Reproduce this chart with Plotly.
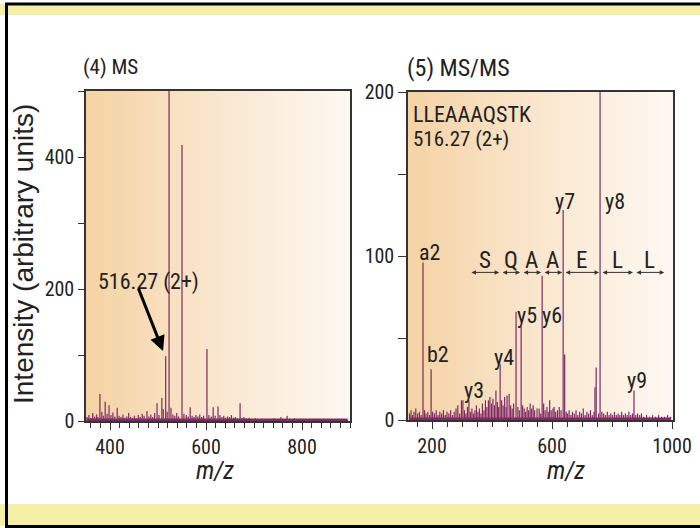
import numpy as np
import plotly.graph_objects as go

FONT_N = "Roboto Condensed, Archivo Narrow, PT Sans Narrow, DejaVu Sans Condensed, sans-serif"

# ---------------- data: (4) MS ----------------
ms_mz = [352, 356, 360, 364, 368, 372, 375, 379, 383, 386, 390, 394, 398, 402, 406, 410, 415, 419,
         423, 427, 431, 435, 439, 443, 447, 451, 455, 459, 463, 467, 471, 477, 481, 485, 489, 493,
         498, 502, 508, 511, 516, 519, 523, 527, 531, 535, 539, 543, 550, 554, 559, 563, 567, 571,
         575, 579, 583, 587, 591, 595, 602, 606, 611, 615, 619, 625, 629, 633, 637, 641, 645, 649,
         653, 657, 661, 665, 671, 675, 679, 684, 690, 696, 703, 710, 718, 726, 734, 742, 750, 756,
         762, 769, 776, 784, 792, 800, 810, 820, 830, 842, 855, 868, 882, 895]
ms_int = [6, 9, 5, 12, 7, 10, 6, 41, 14, 8, 29, 11, 24, 9, 13, 7, 20, 8,
          6, 10, 5, 7, 12, 6, 5, 8, 4, 9, 6, 11, 8, 15, 7, 10, 6, 12,
          27, 9, 35, 18, 98, 14, 520, 20, 10, 8, 12, 7, 418, 11, 9, 7, 21, 8,
          6, 9, 7, 10, 6, 8, 109, 9, 7, 21, 8, 22, 9, 6, 8, 5, 7, 6,
          9, 5, 6, 4, 27, 5, 6, 4, 5, 3, 4, 3, 2, 3, 2, 4, 3, 6,
          3, 8, 3, 4, 2, 3, 2, 3, 2, 3, 2, 3, 2, 2]

# ---------------- data: (5) MS/MS ----------------
msms_mz = [125, 130, 135, 140, 146, 152, 158, 164, 170, 175, 180, 186, 192, 197, 202, 208, 214, 220,
           226, 232, 238, 244, 250, 256, 262, 268, 274, 280, 286, 292, 298, 303, 308, 313, 318, 323,
           328, 333, 338, 343, 348, 353, 358, 363, 368, 373, 378, 383, 388, 393, 398, 403, 408, 413,
           418, 422, 427, 432, 437, 442, 447, 450, 457, 462, 467, 472, 480, 486, 491, 497, 502, 507,
           512, 517, 522, 527, 532, 537, 542, 550, 557, 562, 567, 572, 577, 583, 587, 592, 597, 603,
           607, 612, 618, 624, 630, 637, 642, 647, 652, 657, 663, 668, 674, 680, 686, 692, 698, 704,
           710, 716, 722, 728, 734, 740, 743, 747, 755, 760, 766, 772, 778, 784, 790, 796, 802, 808,
           814, 820, 826, 832, 838, 844, 850, 856, 862, 868, 873, 879, 885, 892, 898, 905, 915, 925,
           935, 945, 955, 965, 975, 985, 995]
msms_int = [4, 6, 3, 5, 7, 4, 5, 3, 96, 6, 4, 5, 3, 31, 5, 4, 6, 3,
            5, 4, 6, 3, 5, 4, 6, 3, 5, 7, 9, 4, 12, 12, 6, 4, 8, 12,
            5, 7, 4, 6, 9, 5, 7, 4, 10, 6, 12, 8, 12, 14, 10, 13, 9, 18,
            11, 8, 34, 12, 9, 14, 8, 15, 16, 9, 7, 10, 66, 8, 6, 57, 9, 7,
            5, 8, 6, 10, 7, 9, 6, 7, 7, 4, 88, 10, 6, 8, 5, 12, 6, 7,
            8, 5, 6, 8, 6, 128, 40, 5, 4, 6, 3, 5, 4, 6, 3, 5, 4, 7,
            3, 5, 4, 6, 3, 5, 20, 32, 4, 230, 5, 4, 3, 5, 3, 4, 3, 5,
            3, 4, 3, 5, 3, 4, 3, 5, 3, 4, 18, 3, 4, 3, 4, 2, 3, 2,
            3, 2, 3, 2, 2, 3, 2]
ion_names = ["a2", "b2", "y3", "y4", "y5", "y6", "y7", "y8", "y9"]
y_ion_mz = [323, 427, 497, 567, 637, 760, 873, 977]
sequence = ["S", "Q", "A", "A", "E", "L", "L"]
peptide = "LLEAAAQSTK"
precursor_text = "516.27 (2+)"

# ---------------- styling ----------------
SPEC = "#7E2A63"
X1 = [350, 900]
Y1 = [0, 500]
X2 = [120, 1003]
Y2 = [0, 200]
W, H = 700, 528
dom_x1 = [86 / W, 350 / W]
dom_x2 = [408 / W, 673 / W]
dom_y1 = [1 - 421 / H, 1 - 91 / H]
dom_y2 = [1 - 420 / H, 1 - 92 / H]

def sticks(mz, it):
    xs, ys = [], []
    for m, v in zip(mz, it):
        xs += [m, m, None]
        ys += [0, v, None]
    return xs, ys

fig = go.Figure()
bg_scale = [[0, "#F5D3A4"], [0.45, "#F9E5CB"], [1, "#FDF8F1"]]
for xr, yr, xa, ya in [(X1, Y1, "x", "y"), (X2, Y2, "x2", "y2")]:
    edges = np.linspace(xr[0], xr[1], 61)
    fig.add_trace(go.Heatmap(x=edges, y=[yr[0], yr[1]], z=[list(np.linspace(0, 1, 60))],
                             colorscale=bg_scale, showscale=False, hoverinfo="skip",
                             xaxis=xa, yaxis=ya))

for mz, it, xa, ya in [(ms_mz, ms_int, "x", "y"), (msms_mz, msms_int, "x2", "y2")]:
    xs, ys = sticks(mz, it)
    fig.add_trace(go.Scatter(x=xs, y=ys, mode="lines", line=dict(color=SPEC, width=1.2),
                             xaxis=xa, yaxis=ya, hoverinfo="skip", showlegend=False))
    fig.add_trace(go.Scatter(x=[min(mz), max(mz)], y=[0, 0], mode="lines",
                             line=dict(color=SPEC, width=5), xaxis=xa, yaxis=ya,
                             hoverinfo="skip", showlegend=False))

axis_common = dict(showgrid=False, zeroline=False, showline=True, linecolor="#333",
                   linewidth=1.5, mirror=True, ticks="outside", tickcolor="#333",
                   tickfont=dict(family=FONT_N, size=20, color="#222"), fixedrange=True)
fig.update_layout(
    width=W, height=H, margin=dict(l=0, r=0, t=0, b=0, autoexpand=False),
    paper_bgcolor="white", plot_bgcolor="white", showlegend=False,
    xaxis=dict(domain=dom_x1, range=X1, anchor="y", tick0=0, dtick=200, ticklen=7,
               minor=dict(dtick=20, ticklen=5, ticks="outside", tickcolor="#333"), **axis_common),
    yaxis=dict(domain=dom_y1, range=Y1, anchor="x", tick0=0, dtick=200, ticklen=6,
               minor=dict(dtick=100, ticklen=6, ticks="outside", tickcolor="#333"), **axis_common),
    xaxis2=dict(domain=dom_x2, range=X2, anchor="y2", tick0=200, dtick=400, ticklen=7,
                minor=dict(dtick=50, ticklen=5, ticks="outside", tickcolor="#333"), **axis_common),
    yaxis2=dict(domain=dom_y2, range=Y2, anchor="x2", tick0=0, dtick=100, ticklen=8,
                minor=dict(dtick=50, ticklen=8, ticks="outside", tickcolor="#333"), **axis_common),
)

YEL = "#F6F0A6"
shapes = [
    dict(type="rect", xref="paper", yref="paper", x0=0, x1=1, y0=1 - 15 / H, y1=1 - 4 / H,
         fillcolor=YEL, line=dict(width=0), layer="below"),
    dict(type="rect", xref="paper", yref="paper", x0=0, x1=1, y0=2 / H, y1=1 - 504 / H,
         fillcolor=YEL, line=dict(width=0), layer="below"),
    dict(type="line", xref="paper", yref="paper", x0=5 / W, x1=1, y0=1 - 4 / H, y1=1 - 4 / H,
         line=dict(color="black", width=3)),
    dict(type="line", xref="paper", yref="paper", x0=6.5 / W, x1=6.5 / W, y0=0, y1=1 - 3 / H,
         line=dict(color="black", width=3)),
    dict(type="line", xref="paper", yref="paper", x0=5 / W, x1=1, y0=1.5 / H, y1=1.5 / H,
         line=dict(color="black", width=3)),
]
fig.update_layout(shapes=shapes)

ann = []
def ptext(x, y, text, size, family=FONT_N, angle=0, xanchor="center", **kw):
    ann.append(dict(xref="paper", yref="paper", x=x / W, y=1 - y / H, text=text, showarrow=False,
                    font=dict(family=family, size=size, color="#222"), textangle=angle,
                    xanchor=xanchor, yanchor="middle", **kw))

ptext(81, 67, "(4) MS", 21, xanchor="left")
ptext(405, 68, "(5) MS/MS", 24, xanchor="left")
ptext(23, 254, "Intensity (arbitrary units)", 28, family="Liberation Sans, Arial, sans-serif", angle=-90)
ptext(215, 470, "<i>m/z</i>", 25)
ptext(566, 470, "<i>m/z</i>", 25)
ptext(411, 114, peptide, 22, xanchor="left")
ptext(411, 139, precursor_text, 21, xanchor="left")

# MS precursor annotation
ann.append(dict(xref="x", yref="y", x=481, y=211, text=precursor_text, showarrow=False,
                font=dict(family=FONT_N, size=22, color="#222")))
ann.append(dict(xref="x", yref="y", x=510.5, y=106, axref="x", ayref="y", ax=458, ay=203,
                text="", showarrow=True, arrowhead=2, arrowsize=1, arrowwidth=3,
                arrowcolor="black"))

ion_label_pos = [(190, 102), (220, 40), (340, 18), (440, 38), (518, 64), (601, 64),
                 (643, 133), (810, 133), (883, 24)]
for name, (lx, ly) in zip(ion_names, ion_label_pos):
    ann.append(dict(xref="x2", yref="y2", x=lx, y=ly, text=name, showarrow=False,
                    font=dict(family=FONT_N, size=22, color="#222")))

for i, aa in enumerate(sequence):
    a, b = y_ion_mz[i], y_ion_mz[i + 1]
    ann.append(dict(xref="x2", yref="y2", x=b, y=90, axref="x2", ayref="y2", ax=a, ay=90,
                    text="", showarrow=True, arrowhead=2, startarrowhead=2, arrowside="end+start",
                    arrowsize=0.9, startarrowsize=0.9, arrowwidth=1, arrowcolor="#333",
                    standoff=1, startstandoff=1))
    ann.append(dict(xref="x2", yref="y2", x=(a + b) / 2, y=97, text=aa, showarrow=False,
                    font=dict(family=FONT_N, size=23, color="#222")))

fig.update_layout(annotations=ann)
fig.write_html("out.html", config={"displayModeBar": False},
               post_script="document.body.style.margin='0px';document.body.style.overflow='hidden';")
